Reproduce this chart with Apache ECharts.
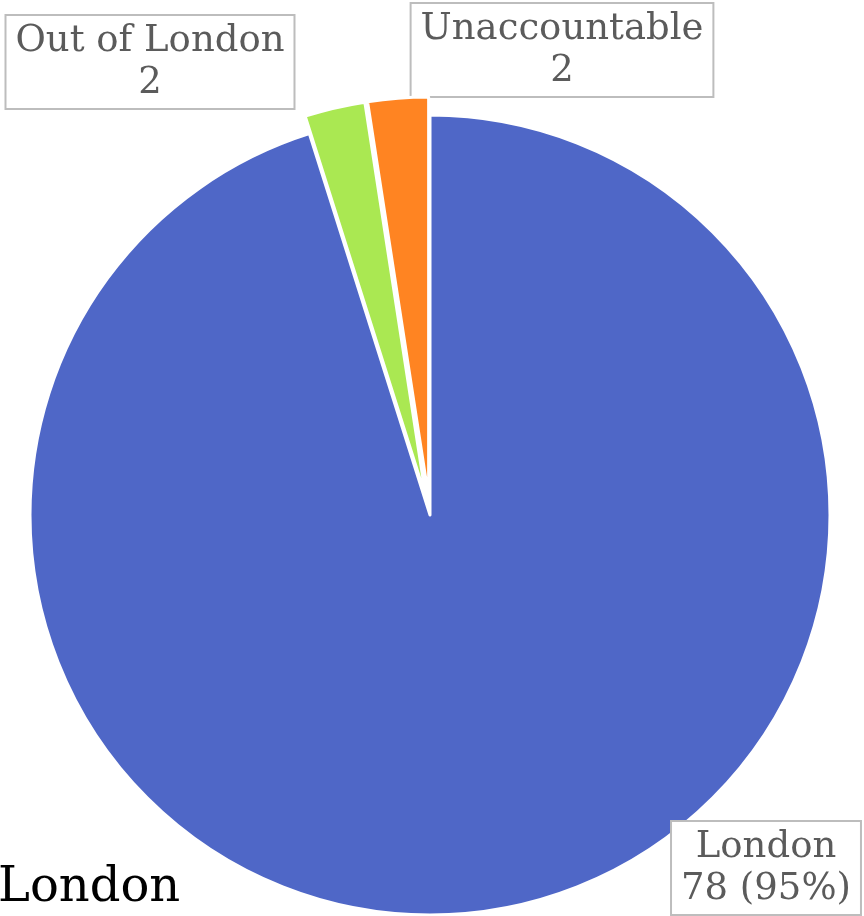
<!DOCTYPE html>
<html>
<head>
<meta charset="utf-8">
<script src="https://cdn.jsdelivr.net/npm/echarts@6/dist/echarts.min.js"></script>
<style>
  html, body { margin: 0; padding: 0; background: #fff; }
  #chart { width: 864px; height: 916px; }
</style>
</head>
<body>
<div id="chart"></div>
<script>
// Where the people were
const categories = ['London', 'Out of London', 'Unaccountable'];
const counts = [78, 2, 2];
const sliceColors = ['#4f67c7', '#aae852', '#ff8422'];
const pulledOut = [false, true, true];

// Label box anchors (centre of each box)
const labelAnchors = [[766, 868], [150, 62], [562, 50]];

const serif = '"DejaVu Serif", serif';
const pieCenter = [430, 515];
const pieRadius = 400;

const chart = echarts.init(document.getElementById('chart'), null, { renderer: 'canvas' });

chart.setOption({
  animation: false,
  backgroundColor: '#fff',
  title: {
    text: 'London',
    left: -2,
    top: 865,
    padding: 0,
    textStyle: { fontFamily: serif, fontSize: 48, fontWeight: 'normal', color: '#000' }
  },
  series: [
    {
      // the slices, small ones pulled out
      type: 'pie',
      center: pieCenter,
      radius: pieRadius,
      startAngle: 90,
      clockwise: true,
      selectedMode: 'multiple',
      selectedOffset: 18,
      itemStyle: { borderColor: '#fff', borderWidth: 3 },
      emphasis: { scale: false },
      label: { show: false },
      labelLine: { show: false },
      data: categories.map((name, i) => ({
        name: name,
        value: counts[i],
        selected: pulledOut[i],
        itemStyle: { color: sliceColors[i] }
      }))
    },
    {
      // boxed value labels
      type: 'pie',
      silent: true,
      center: pieCenter,
      radius: pieRadius,
      startAngle: 90,
      clockwise: true,
      avoidLabelOverlap: false,
      itemStyle: { color: 'rgba(0,0,0,0)', borderWidth: 0 },
      labelLine: { show: false },
      label: {
        show: true,
        position: 'outside',
        fontFamily: serif,
        fontSize: 37,
        lineHeight: 42,
        color: '#5b5b5b',
        backgroundColor: '#fff',
        borderColor: '#bdbdbd',
        borderWidth: 2,
        padding: [4, 9, 4, 9],
        align: 'center',
        formatter: function (p) {
          if (p.dataIndex === 0) {
            return p.name + '\n' + p.value + ' (' + Math.round(p.percent) + '%)';
          }
          return p.name + '\n' + p.value;
        }
      },
      labelLayout: function (params) {
        const a = labelAnchors[params.dataIndex];
        return { x: a[0], y: a[1], align: 'center', verticalAlign: 'middle' };
      },
      data: categories.map((name, i) => ({ name: name, value: counts[i] }))
    }
  ]
});
</script>
</body>
</html>
